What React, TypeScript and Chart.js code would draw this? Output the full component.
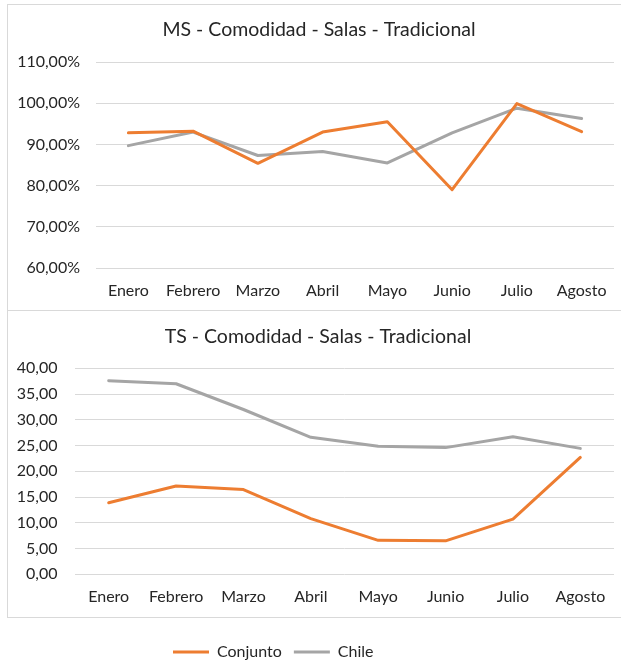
import React, { useEffect, useRef } from 'react';
import { Chart, registerables } from 'chart.js';

Chart.register(...registerables);

// ---- data ----
const months = ['Enero', 'Febrero', 'Marzo', 'Abril', 'Mayo', 'Junio', 'Julio', 'Agosto'];
const seriesNames = ['Conjunto', 'Chile'];
const msConjunto = [92.8, 93.2, 85.4, 93.0, 95.5, 79.0, 99.9, 93.1];
const msChile = [89.7, 93.0, 87.3, 88.3, 85.5, 92.8, 98.8, 96.3];
const tsConjunto = [13.9, 17.15, 16.45, 10.8, 6.6, 6.5, 10.7, 22.7];
const tsChile = [37.6, 37.0, 32.0, 26.6, 24.85, 24.6, 26.7, 24.45];
const msYTicks = [60, 70, 80, 90, 100, 110];
const tsYTicks = [0, 5, 10, 15, 20, 25, 30, 35, 40];
const msTitle = 'MS - Comodidad - Salas - Tradicional';
const tsTitle = 'TS - Comodidad - Salas - Tradicional';

// ---- style ----
const FONT = 'Lato';
const TEXT = '#262626';
const GRID = '#D9D9D9';
const COLORS = ['#ED7D31', '#A5A5A5'];
const CANVAS_W = 638;
const PLOT_RIGHT = 614;

const fmt = (v: number, pct: boolean) => v.toFixed(2).replace('.', ',') + (pct ? '%' : '');

interface Opts {
  title: string;
  a: number[];
  b: number[];
  ticks: number[];
  pct: boolean;
  titlePad: { top: number; bottom: number };
  titleCenter: number;
  yWidth: number;
  yPad: number;
  xHeight: number;
  xPad: number;
  legend: boolean;
  legendLeft?: number;
}

function makeConfig(o: Opts): any {
  const plugins: any[] = [
    {
      id: 'boxShift',
      afterLayout(chart: any) {
        const t = chart.titleBlock;
        if (t) {
          t.right = 2 * o.titleCenter - t.left;
        }
        const l = chart.legend;
        if (o.legend && l && o.legendLeft !== undefined) {
          l.left = o.legendLeft;
        }
      },
    },
  ];
  return {
    type: 'line',
    data: {
      labels: months,
      datasets: [o.a, o.b].map((d, i) => ({
        label: seriesNames[i],
        data: d,
        borderColor: COLORS[i],
        backgroundColor: COLORS[i],
        borderWidth: 3,
        pointRadius: 0,
        pointHoverRadius: 0,
        tension: 0,
        borderJoinStyle: 'round',
        borderCapStyle: 'round',
        fill: false,
      })),
    },
    options: {
      responsive: false,
      animation: false,
      devicePixelRatio: 1,
      layout: { padding: { left: 0, right: CANVAS_W - PLOT_RIGHT, top: 0, bottom: 0 } },
      plugins: {
        title: {
          display: true,
          text: o.title,
          color: TEXT,
          font: { family: FONT, size: 19.5, weight: 'normal' },
          padding: o.titlePad,
        },
        legend: {
          display: o.legend,
          position: 'bottom',
          align: 'start',
          labels: {
            font: { family: FONT, size: 16 },
            color: TEXT,
            boxWidth: 36,
            boxHeight: 3,
            padding: 12,
            generateLabels: (chart: any) =>
              (Chart.defaults.plugins.legend.labels as any)
                .generateLabels(chart)
                .map((l: any) => ({ ...l, fillStyle: l.strokeStyle, lineWidth: 0 })),
          },
        },
        tooltip: { enabled: false },
      },
      scales: {
        x: {
          offset: true,
          grid: { display: false, drawTicks: false },
          border: { display: false },
          ticks: {
            color: TEXT,
            font: { family: FONT, size: 16 },
            padding: o.xPad,
            maxRotation: 0,
            autoSkip: false,
          },
          afterFit: (s: any) => {
            s.height = o.xHeight;
          },
        },
        y: {
          min: o.ticks[0],
          max: o.ticks[o.ticks.length - 1],
          grid: { color: GRID, lineWidth: 1, drawTicks: false },
          border: { display: false },
          ticks: {
            color: TEXT,
            font: { family: FONT, size: 16 },
            padding: o.yPad,
            callback: (v: any) => fmt(Number(v), o.pct),
          },
          afterBuildTicks: (s: any) => {
            s.ticks = o.ticks.map((v) => ({ value: v }));
          },
          afterFit: (s: any) => {
            s.width = o.yWidth;
          },
        },
      },
    },
    plugins,
  };
}

function ChartCanvas({ config, top, height }: { config: any; top: number; height: number }) {
  const ref = useRef<HTMLCanvasElement>(null);
  useEffect(() => {
    const chart = new Chart(ref.current as HTMLCanvasElement, config);
    return () => chart.destroy();
  }, []);
  return (
    <canvas
      ref={ref}
      width={CANVAS_W}
      height={height}
      style={{ position: 'absolute', left: 0, top, width: CANVAS_W, height, display: 'block' }}
    />
  );
}

const msConfig = makeConfig({
  title: msTitle,
  a: msConjunto,
  b: msChile,
  ticks: msYTicks,
  pct: true,
  titlePad: { top: 18.3, bottom: 20.3 },
  titleCenter: 319,
  yWidth: 96,
  yPad: 16,
  xHeight: 42,
  xPad: 13.4,
  legend: false,
});

const tsConfig = makeConfig({
  title: tsTitle,
  a: tsConjunto,
  b: tsChile,
  ticks: tsYTicks,
  pct: false,
  titlePad: { top: 15, bottom: 19.9 },
  titleCenter: 318,
  yWidth: 75,
  yPad: 17.5,
  xHeight: 57.7,
  xPad: 12.8,
  legend: true,
  legendLeft: 161,
});

export default function App() {
  return (
    <div
      style={{
        position: 'absolute',
        left: 0,
        top: 0,
        width: 621,
        height: 662,
        overflow: 'hidden',
        background: '#ffffff',
      }}
    >
      <div
        style={{
          position: 'absolute',
          left: 7,
          top: 4,
          width: 700,
          height: 307,
          boxSizing: 'border-box',
          border: `1px solid ${GRID}`,
        }}
      />
      <div
        style={{
          position: 'absolute',
          left: 7,
          top: 310,
          width: 700,
          height: 308,
          boxSizing: 'border-box',
          border: `1px solid ${GRID}`,
        }}
      />
      <ChartCanvas config={msConfig} top={0} height={310} />
      <ChartCanvas config={tsConfig} top={310} height={360} />
    </div>
  );
}
